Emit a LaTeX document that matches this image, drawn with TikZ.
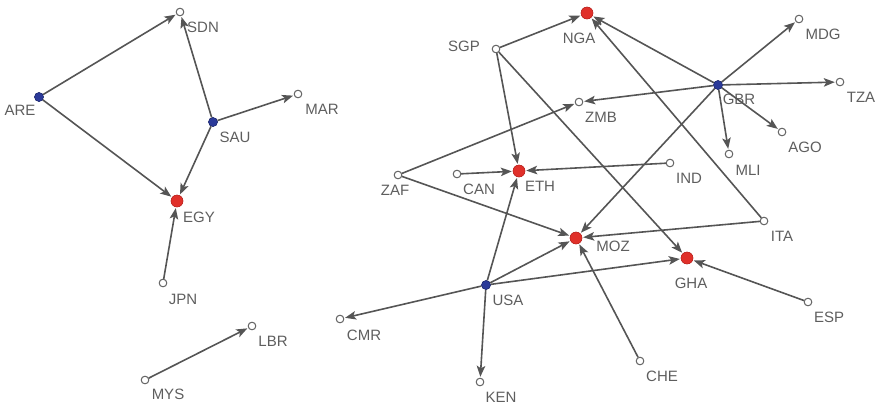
\documentclass[tikz,border=0pt]{standalone}
\usepackage{fontspec}
\setmainfont{Liberation Sans}
\usetikzlibrary{arrows.meta}
\definecolor{edgegray}{HTML}{555555}
\definecolor{labgray}{HTML}{5E5E5E}
\definecolor{leafgray}{HTML}{666666}
\definecolor{hubblue}{HTML}{2B3A99}
\definecolor{sinkred}{HTML}{E0302A}
\tikzset{
  src/.style={circle,fill=hubblue,draw=hubblue!70!black,line width=0.4pt,inner sep=0pt,minimum size=9pt},
  sink/.style={circle,fill=sinkred,draw=sinkred!80!black,line width=0.4pt,inner sep=0pt,minimum size=12pt},
  leaf/.style={circle,fill=white,draw=leafgray,line width=0.9pt,inner sep=0pt,minimum size=7.5pt},
  lab/.style={text=labgray,font=\fontsize{15}{15}\selectfont,inner sep=0pt,anchor=center},
  link/.style={draw=edgegray,line width=1.6pt,-{Stealth[length=11pt,width=8.5pt,inset=2.5pt]},shorten >=1pt}
}
\begin{document}
\begin{tikzpicture}[x=1pt,y=-1pt]
\useasboundingbox (0,0) rectangle (877,405);
% nodes
\node[src]  (ARE) at (39,97) {};
\node[src]  (SAU) at (213,122) {};
\node[leaf] (SDN) at (180,12) {};
\node[leaf] (MAR) at (298,94) {};
\node[sink] (EGY) at (177,201) {};
\node[leaf] (JPN) at (163,283) {};
\node[leaf] (LBR) at (252,326) {};
\node[leaf] (MYS) at (145,380) {};
\node[sink] (NGA) at (587,13) {};
\node[leaf] (SGP) at (496,49) {};
\node[leaf] (ZMB) at (579,102) {};
\node[leaf] (ZAF) at (398,175) {};
\node[leaf] (CAN) at (457,174) {};
\node[sink] (ETH) at (519,171) {};
\node[src]  (GBR) at (718,85) {};
\node[leaf] (MDG) at (799,19) {};
\node[leaf] (TZA) at (840,82) {};
\node[leaf] (AGO) at (782,132) {};
\node[leaf] (MLI) at (729,154) {};
\node[leaf] (IND) at (670,163) {};
\node[sink] (MOZ) at (576,238) {};
\node[src]  (USA) at (486,285) {};
\node[leaf] (CMR) at (340,319) {};
\node[leaf] (KEN) at (480,382) {};
\node[leaf] (ITA) at (764,221) {};
\node[sink] (GHA) at (687,258) {};
\node[leaf] (ESP) at (808,302) {};
\node[leaf] (CHE) at (640,361) {};
% labels
\node[lab] (lSDN) at (203,27) {SDN};
\node[lab] (lARE) at (20,110) {ARE};
\node[lab] (lSAU) at (235,137) {SAU};
\node[lab] (lMAR) at (322,109) {MAR};
\node[lab] (lEGY) at (199,217) {EGY};
\node[lab] (lJPN) at (183,299) {JPN};
\node[lab] (lLBR) at (273,341) {LBR};
\node[lab] (lMYS) at (168,394) {MYS};
\node[lab] (lNGA) at (579,38) {NGA};
\node[lab] (lSGP) at (464,46) {SGP};
\node[lab] (lZMB) at (601,117) {ZMB};
\node[lab] (lZAF) at (395,190) {ZAF};
\node[lab] (lCAN) at (479,189) {CAN};
\node[lab] (lETH) at (540,186) {ETH};
\node[lab] (lGBR) at (739,99) {GBR};
\node[lab] (lMDG) at (823,34) {MDG};
\node[lab] (lTZA) at (861,97) {TZA};
\node[lab] (lAGO) at (805,147) {AGO};
\node[lab] (lMLI) at (748,170) {MLI};
\node[lab] (lIND) at (689,178) {IND};
\node[lab] (lMOZ) at (613,246) {MOZ};
\node[lab] (lUSA) at (508,300) {USA};
\node[lab] (lCMR) at (364,335) {CMR};
\node[lab] (lKEN) at (501,397) {KEN};
\node[lab] (lITA) at (782,236) {ITA};
\node[lab] (lGHA) at (691,283) {GHA};
\node[lab] (lESP) at (829,317) {ESP};
\node[lab] (lCHE) at (662,376) {CHE};
% edges
\draw[link] (ARE) -- (SDN);
\draw[link] (ARE) -- (EGY);
\draw[link] (SAU) -- (SDN);
\draw[link] (SAU) -- (MAR);
\draw[link] (SAU) -- (EGY);
\draw[link] (JPN) -- (EGY);
\draw[link] (MYS) -- (LBR);
\draw[link] (SGP) -- (NGA);
\draw[link] (SGP) -- (ETH);
\draw[link] (SGP) -- (GHA);
\draw[link] (GBR) -- (NGA);
\draw[link] (GBR) -- (MDG);
\draw[link] (GBR) -- (TZA);
\draw[link] (GBR) -- (ZMB);
\draw[link] (GBR) -- (AGO);
\draw[link] (GBR) -- (MLI);
\draw[link] (GBR) -- (MOZ);
\draw[link] (ITA) -- (NGA);
\draw[link] (ITA) -- (MOZ);
\draw[link] (ZAF) -- (ZMB);
\draw[link] (ZAF) -- (MOZ);
\draw[link] (CAN) -- (ETH);
\draw[link] (IND) -- (ETH);
\draw[link] (USA) -- (ETH);
\draw[link] (USA) -- (MOZ);
\draw[link] (USA) -- (GHA);
\draw[link] (USA) -- (CMR);
\draw[link] (USA) -- (KEN);
\draw[link] (CHE) -- (MOZ);
\draw[link] (ESP) -- (GHA);
% redraw nodes on top
\foreach \n in {ARE,SAU,GBR,USA}{\node[src] at (\n) {};}
\foreach \n in {EGY,NGA,ETH,MOZ,GHA}{\node[sink] at (\n) {};}
\foreach \n in {SDN,MAR,JPN,LBR,MYS,SGP,ZMB,ZAF,CAN,MDG,TZA,AGO,MLI,IND,CMR,KEN,ITA,ESP,CHE}{\node[leaf] at (\n) {};}
\end{tikzpicture}
\end{document}
